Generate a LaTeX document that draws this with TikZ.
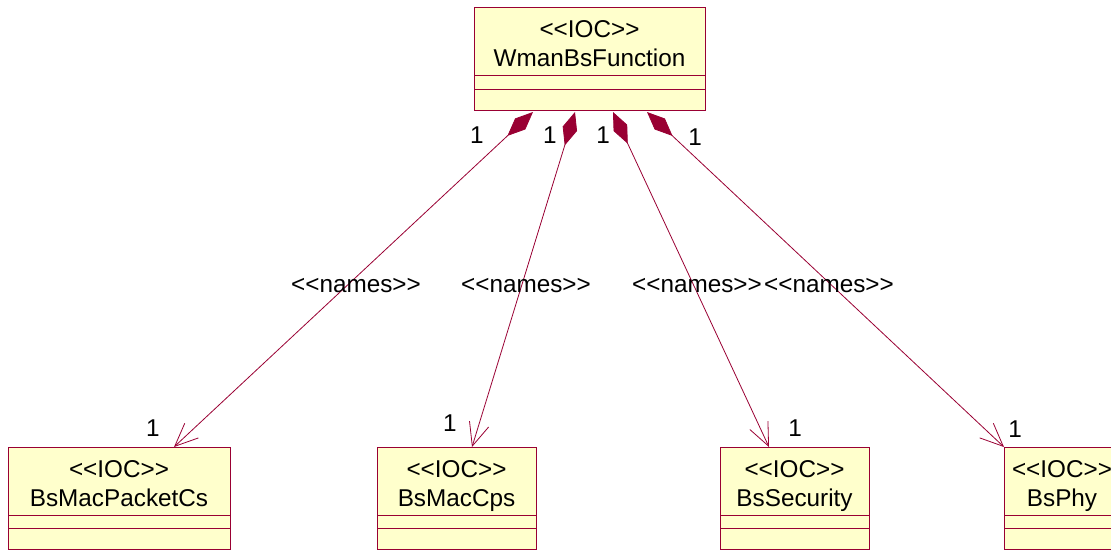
\documentclass[tikz,border=0pt]{standalone}
\usepackage{fontspec}
\newfontfamily\umlfont{Liberation Sans}
\usetikzlibrary{arrows.meta,calc}

\definecolor{umlred}{HTML}{990033}
\definecolor{umlfill}{HTML}{FFFFCC}

\begin{document}
\begin{tikzpicture}[x=1pt,y=-1pt,inner sep=0pt,outer sep=0pt,
    every node/.style={font=\umlfont\fontsize{24.3}{29.5}\selectfont},
    compart/.style={draw=umlred,fill=umlfill,line width=1pt,anchor=north west},
    classname/.style={anchor=base,align=center},
    assoc/.style={draw=umlred,line width=0.8pt,
        {Diamond[length=35pt,width=15pt,fill=umlred]}-{Straight Barb[length=23pt,width=20pt]}}]
    \useasboundingbox (0,0) rectangle (1111,550);

    % WmanBsFunction
    \node[compart, minimum width=231pt, minimum height=68pt] (wman) at (474,7) {};
    \node[compart, minimum width=231pt, minimum height=14pt] (wman_attr) at (wman.south west) {};
    \node[compart, minimum width=231pt, minimum height=21pt] (wman_op) at (wman_attr.south west) {};
    \node[classname] (wman_txt) at ($(wman.north)+(0,59.5)$) {<<IOC>>\\WmanBsFunction};

    % BsMacPacketCs
    \node[compart, minimum width=222pt, minimum height=68pt] (pkt) at (8,447) {};
    \node[compart, minimum width=222pt, minimum height=13pt] (pkt_attr) at (pkt.south west) {};
    \node[compart, minimum width=222pt, minimum height=21pt] (pkt_op) at (pkt_attr.south west) {};
    \node[classname] (pkt_txt) at ($(pkt.north)+(0,59.5)$) {<<IOC>>\\BsMacPacketCs};

    % BsMacCps
    \node[compart, minimum width=159pt, minimum height=68pt] (cps) at (377,447) {};
    \node[compart, minimum width=159pt, minimum height=13pt] (cps_attr) at (cps.south west) {};
    \node[compart, minimum width=159pt, minimum height=21pt] (cps_op) at (cps_attr.south west) {};
    \node[classname] (cps_txt) at ($(cps.north)+(0,59.5)$) {<<IOC>>\\BsMacCps};

    % BsSecurity
    \node[compart, minimum width=149pt, minimum height=68pt] (sec) at (720,447) {};
    \node[compart, minimum width=149pt, minimum height=13pt] (sec_attr) at (sec.south west) {};
    \node[compart, minimum width=149pt, minimum height=21pt] (sec_op) at (sec_attr.south west) {};
    \node[classname] (sec_txt) at ($(sec.north)+(0,59.5)$) {<<IOC>>\\BsSecurity};

    % BsPhy (runs past the right edge)
    \node[compart, minimum width=150pt, minimum height=68pt] (phy) at (1004,447) {};
    \node[compart, minimum width=150pt, minimum height=13pt] (phy_attr) at (phy.south west) {};
    \node[compart, minimum width=150pt, minimum height=21pt] (phy_op) at (phy_attr.south west) {};
    \node[classname] (phy_txt) at ($(phy.north west)+(58,59.5)$) {<<IOC>>\\BsPhy};

    % association ends
    \coordinate (wman_p1) at ($(wman_op.south west)+(59,2)$);
    \coordinate (wman_p2) at ($(wman_op.south west)+(101,2)$);
    \coordinate (wman_p3) at ($(wman_op.south west)+(139,2)$);
    \coordinate (wman_p4) at ($(wman_op.south west)+(173,2)$);
    \coordinate (pkt_in) at ($(pkt.north west)+(166,0)$);
    \coordinate (cps_in) at ($(cps.north west)+(95,0)$);
    \coordinate (sec_in) at ($(sec.north west)+(49,0)$);

    \draw[assoc] (wman_p1) -- (pkt_in);
    \draw[assoc] (wman_p2) -- (cps_in);
    \draw[assoc] (wman_p3) -- (sec_in);
    \draw[assoc] (wman_p4) -- (phy.north west);

    % stereotypes
    \node[anchor=base] (names_pkt) at (356,292) {<<names>>};
    \node[anchor=base] (names_cps) at (526,292) {<<names>>};
    \node[anchor=base] (names_sec) at (697,292) {<<names>>};
    \node[anchor=base] (names_phy) at (829,292) {<<names>>};

    % multiplicities
    \node (m_pkt_src) at (477,135) {1};
    \node (m_cps_src) at (550,135) {1};
    \node (m_sec_src) at (603,135) {1};
    \node (m_phy_src) at (695,137) {1};
    \node (m_pkt_dst) at (153,428) {1};
    \node (m_cps_dst) at (450,423) {1};
    \node (m_sec_dst) at (795,428) {1};
    \node (m_phy_dst) at (1015,429) {1};

\end{tikzpicture}
\end{document}
